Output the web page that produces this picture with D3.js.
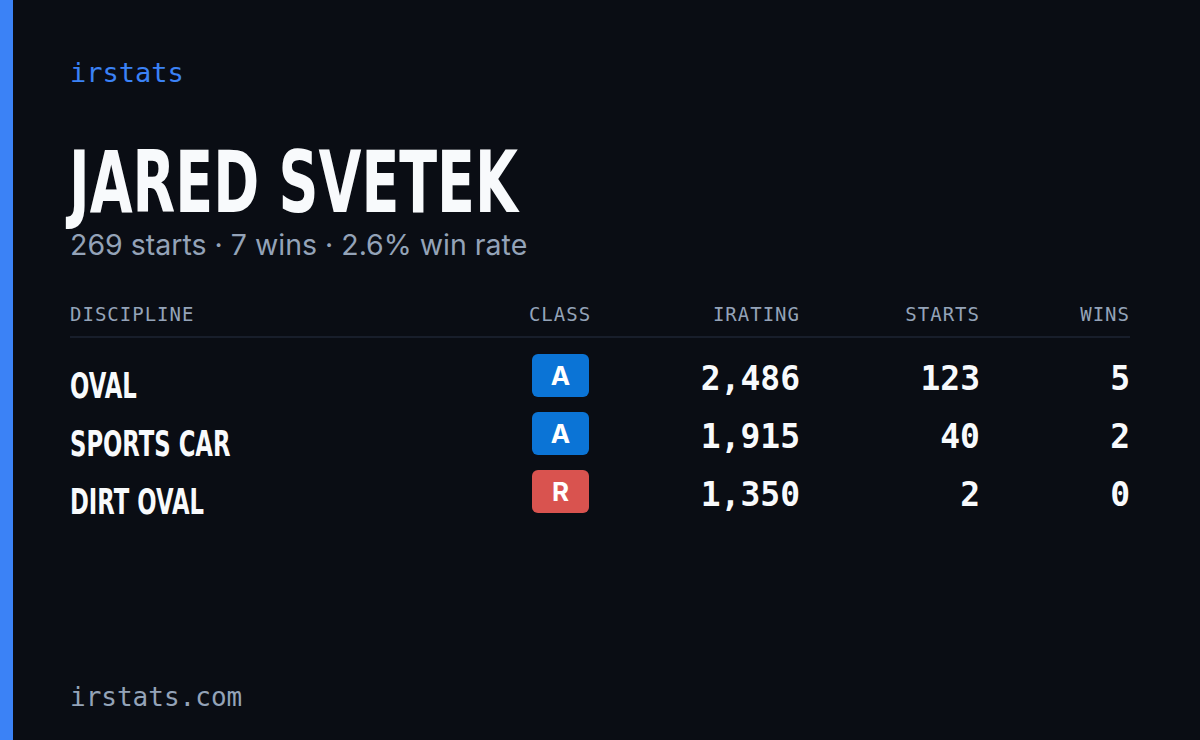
<!DOCTYPE html>
<html><head><meta charset="utf-8">
<script src="https://cdn.jsdelivr.net/npm/d3@7/dist/d3.min.js"></script>
<style>body{margin:0;background:#0a0d14}</style>
</head><body>
<svg id="card" width="1200" height="740"></svg>
<script>
// card data
const driverName = "JARED SVETEK";
const summary = "269 starts · 7 wins · 2.6% win rate";
const columns = ["DISCIPLINE", "CLASS", "IRATING", "STARTS", "WINS"];
const disciplines = ["OVAL", "SPORTS CAR", "DIRT OVAL"];
const classes = ["A", "A", "R"];
const iratings = [2486, 1915, 1350];
const starts = [123, 40, 2];
const wins = [5, 2, 0];

const classColor = { A: "#0b74d6", R: "#d9534f" };
const mono = "'DejaVu Sans Mono', 'Liberation Mono', monospace";
const cond = "'DejaVu Sans', sans-serif";
const squeeze = 0.65; // no condensed font installed, fake it

const svg = d3.select("#card");
svg.append("rect").attr("width", 1200).attr("height", 740).attr("fill", "#0a0d14");
svg.append("rect").attr("width", 13).attr("height", 740).attr("fill", "#3b82f6");

svg.append("text").attr("x", 70).attr("y", 82).text("irstats")
  .attr("font-family", mono).attr("font-size", 27).attr("fill", "#3b82f6");

svg.append("text").attr("transform", `translate(69,212) scale(0.645,1)`).text(driverName)
  .attr("font-family", cond).attr("font-weight", "bold").attr("font-size", 86)
  .attr("fill", "#f8fafc");

svg.append("text").attr("x", 70).attr("y", 255).text(summary)
  .attr("font-family", "Inter, 'Noto Sans', sans-serif").attr("font-size", 28.5).attr("fill", "#94a3b8");

// columns: x anchor + alignment
const colX = [70, 560, 800, 980, 1130];
const colAnchor = ["start", "middle", "end", "end", "end"];

svg.selectAll("text.head").data(columns).join("text").attr("class", "head")
  .attr("x", (d, i) => colX[i]).attr("y", 321).attr("text-anchor", (d, i) => colAnchor[i])
  .attr("font-family", mono).attr("font-size", 19).attr("letter-spacing", 1)
  .attr("fill", "#94a3b8").text(d => d);

svg.append("line").attr("x1", 70).attr("x2", 1130).attr("y1", 337).attr("y2", 337)
  .attr("stroke", "#1e2533").attr("stroke-width", 1.5);

const y = d3.scaleBand().domain(disciplines).range([346, 520]).paddingInner(0);
const fmt = d3.format(",");

const rows = svg.selectAll("g.row").data(disciplines).join("g").attr("class", "row")
  .attr("transform", d => `translate(0,${y(d)})`);

rows.append("text").attr("transform", `translate(70,52) scale(${squeeze},1)`).text(d => d)
  .attr("font-family", cond).attr("font-weight", "bold").attr("font-size", 35)
  .attr("fill", "#f8fafc");

rows.append("rect").attr("x", 532).attr("y", 8).attr("width", 57).attr("height", 43).attr("rx", 6)
  .attr("fill", (d, i) => classColor[classes[i]]);
rows.append("text").attr("x", 560.5).attr("y", 39).attr("text-anchor", "middle")
  .attr("font-family", "Inter, 'DejaVu Sans', sans-serif").attr("font-weight", "bold")
  .attr("font-size", 26).attr("fill", "#fff").text((d, i) => classes[i]);

const numCols = [iratings.map(fmt), starts, wins];
numCols.forEach((vals, c) => {
  rows.append("text").attr("x", colX[c + 2]).attr("y", 44).attr("text-anchor", "end")
    .attr("font-family", mono).attr("font-weight", "bold").attr("font-size", 33)
    .attr("fill", "#f8fafc").text((d, i) => vals[i]);
});

svg.append("text").attr("x", 70).attr("y", 706).text("irstats.com")
  .attr("font-family", mono).attr("font-size", 26).attr("fill", "#94a3b8");
</script>
</body></html>
